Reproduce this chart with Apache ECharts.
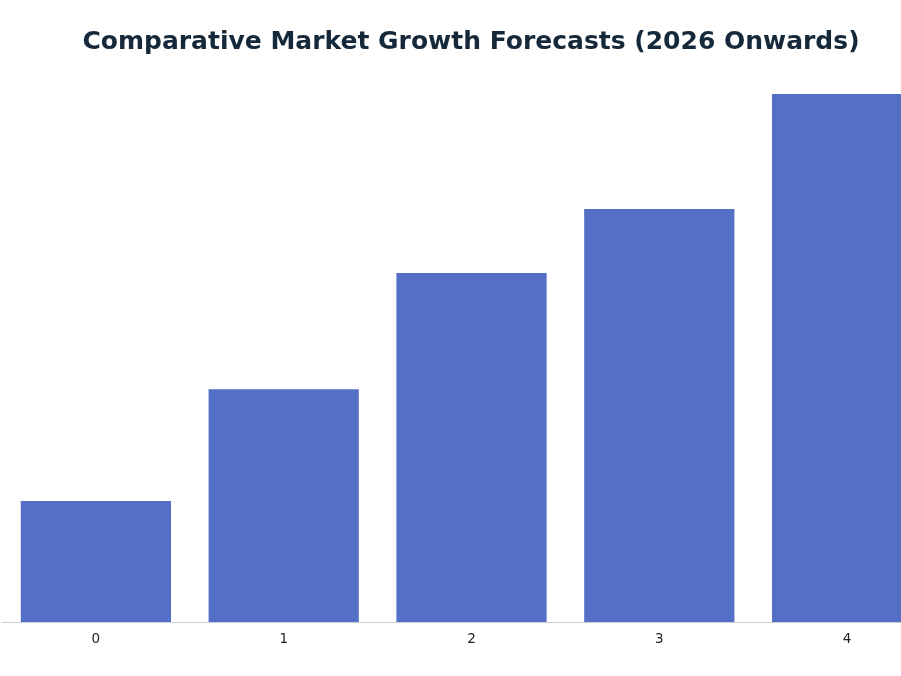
<!DOCTYPE html>
<html>
<head>
<meta charset="utf-8">
<script src="https://cdn.jsdelivr.net/npm/echarts@6/dist/echarts.min.js"></script>
<style>
html,body{margin:0;padding:0;background:#fff;overflow:hidden;width:901px;height:676px;}
#chart{width:941px;height:676px;}
</style>
</head>
<body>
<div id="chart"></div>
<script>
const titleText = "Comparative Market Growth Forecasts (2026 Onwards)";
const categories = ["0", "1", "2", "3", "4"];
const values = [2.29, 4.41, 6.61, 7.82, 10.0];
const yMax = 10;

const chart = echarts.init(document.getElementById('chart'), null, {renderer: 'canvas'});
chart.setOption({
  animation: false,
  backgroundColor: '#ffffff',
  title: {
    text: titleText,
    left: 466,
    top: 25,
    textAlign: 'center',
    textStyle: {
      fontFamily: 'DejaVu Sans',
      fontWeight: 'bold',
      fontSize: 25,
      color: '#15293a'
    }
  },
  grid: {left: 2, right: 0, top: 94, bottom: 54, containLabel: false},
  xAxis: {
    type: 'category',
    data: categories,
    axisLine: {lineStyle: {color: '#c8cdd0', width: 1}},
    axisTick: {alignWithLabel: true, length: 4, lineStyle: {color: '#333333'}},
    axisLabel: {fontFamily: 'DejaVu Sans', fontSize: 13.5, color: '#222222', margin: 10}
  },
  yAxis: {
    type: 'value',
    show: false,
    min: 0,
    max: yMax,
    splitLine: {show: false}
  },
  series: [{
    type: 'bar',
    data: values,
    barCategoryGap: '20%',
    itemStyle: {color: '#5470c6'}
  }]
});
</script>
</body>
</html>
